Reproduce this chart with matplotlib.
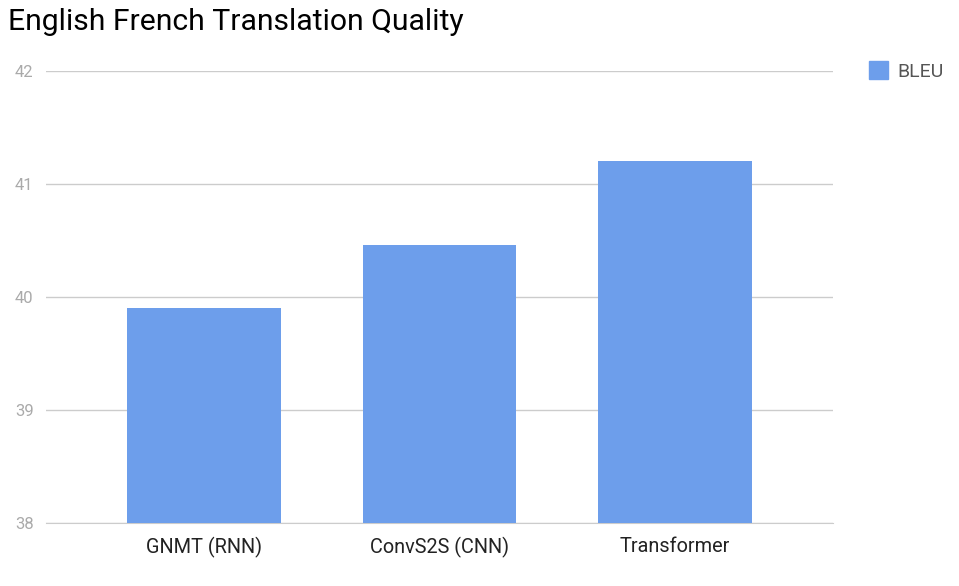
import numpy as np
import matplotlib.pyplot as plt
from matplotlib.patches import Patch

plt.rcParams['font.family'] = ['Roboto', 'DejaVu Sans']

# data
models = ['GNMT (RNN)', 'ConvS2S (CNN)', 'Transformer']
bleu = [39.9, 40.46, 41.2]
yticks = [38, 39, 40, 41, 42]

bar_color = '#6d9eeb'

fig = plt.figure(figsize=(9.59, 5.86), dpi=100)
ax = fig.add_axes([46 / 959, 1 - 523 / 586, (833 - 46) / 959, (523 - 71) / 586])

x = np.arange(len(models))
ax.bar(x, [b - 38 for b in bleu], bottom=38, width=0.65, color=bar_color, zorder=3)

ax.set_xlim(-0.671, len(models) - 1 + 0.671)
ax.set_ylim(38, 42)
ax.set_yticks(yticks)
ax.set_yticklabels([str(t) for t in yticks], color='#aaaaaa', fontsize=12)
ax.set_xticks(x)
ax.set_xticklabels(models, fontsize=14.3, color='#222222')
ax.tick_params(axis='both', length=0)
ax.tick_params(axis='y', pad=9)
ax.tick_params(axis='x', pad=10)
ax.grid(axis='y', color='#cccccc', linewidth=1, zorder=0)
for s in ['top', 'right', 'left']:
    ax.spines[s].set_visible(False)
ax.spines['bottom'].set_color('#cccccc')

fig.text(8 / 959, 1 - 22 / 586, 'English French Translation Quality', fontsize=21.7,
         color='#000000', va='center', ha='left')

leg = fig.legend(handles=[Patch(color=bar_color, label='BLEU')], loc='center left',
                 bbox_to_anchor=(851 / 959, 1 - 71 / 586), frameon=False, fontsize=14,
                 handlelength=1.0, handleheight=1.0, handletextpad=0.5, labelcolor='#555555')

fig.savefig('out.png', dpi=100)
